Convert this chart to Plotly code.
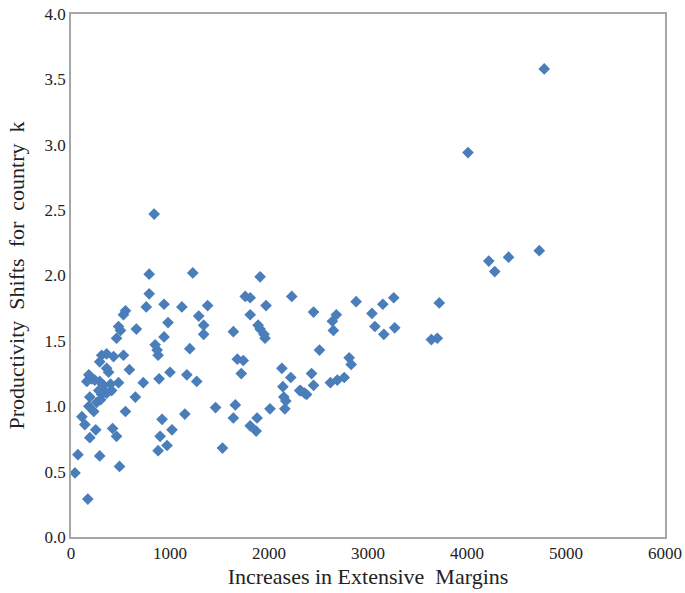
import plotly.graph_objects as go

# Increases in extensive margins (x) vs productivity shifts for country k (y)
margins = [
    4780, 4010, 4730, 4420, 4220, 4280, 3720, 3640, 3700,
    2450, 2680, 2640, 2650, 2880, 3150, 3260, 3040, 3070, 3160, 3270,
    2510, 2810, 2830, 2430, 2620, 2690, 2760, 2450, 2360, 2310,
    1910, 1760, 1810, 2230, 1380, 1970, 1810, 1890, 1910, 1950, 1960,
    1340, 1340, 1640, 1680, 1740, 1720, 2130, 2220, 2140, 2320, 2380,
    2150, 2170, 1460, 1660, 2010, 2160, 1640, 1880, 1810, 1870, 1530, 1270,
    840, 790, 1230, 790, 760, 940, 1120, 550, 530, 660, 980, 1290,
    480, 500, 460, 940, 850, 870, 880, 1200, 310, 360, 430, 530, 290,
    590, 360, 380, 180, 210, 160, 240, 290, 330, 400, 480, 280, 310,
    360, 410, 1000, 890, 730, 1170, 190, 180, 230, 260, 300, 110, 140,
    650, 550, 920, 1150, 250, 190, 420, 460, 900, 1020, 970, 880,
    70, 290, 490, 40, 170,
]
shifts = [
    3.58, 2.94, 2.19, 2.14, 2.11, 2.03, 1.79, 1.51, 1.52,
    1.72, 1.70, 1.65, 1.58, 1.80, 1.78, 1.83, 1.71, 1.61, 1.55, 1.60,
    1.43, 1.37, 1.32, 1.25, 1.18, 1.20, 1.22, 1.16, 1.10, 1.12,
    1.99, 1.84, 1.83, 1.84, 1.77, 1.77, 1.70, 1.62, 1.59, 1.55, 1.52,
    1.62, 1.55, 1.57, 1.36, 1.35, 1.25, 1.29, 1.22, 1.15, 1.12, 1.09,
    1.07, 1.04, 0.99, 1.01, 0.98, 0.98, 0.91, 0.91, 0.85, 0.81, 0.68, 1.19,
    2.47, 2.01, 2.02, 1.86, 1.76, 1.78, 1.76, 1.73, 1.70, 1.59, 1.64, 1.69,
    1.61, 1.58, 1.52, 1.53, 1.47, 1.43, 1.39, 1.44, 1.39, 1.40, 1.38, 1.39, 1.34,
    1.28, 1.29, 1.26, 1.24, 1.21, 1.19, 1.20, 1.19, 1.16, 1.17, 1.18, 1.12, 1.09,
    1.10, 1.12, 1.26, 1.21, 1.18, 1.24, 1.07, 1.00, 0.96, 1.03, 1.05, 0.92, 0.86,
    1.07, 0.96, 0.90, 0.94, 0.82, 0.76, 0.83, 0.77, 0.77, 0.82, 0.70, 0.66,
    0.63, 0.62, 0.54, 0.49, 0.29,
]

x_ticks = [0, 1000, 2000, 3000, 4000, 5000, 6000]
y_ticks = [0.0, 0.5, 1.0, 1.5, 2.0, 2.5, 3.0, 3.5, 4.0]

fig = go.Figure(
    go.Scatter(
        x=margins,
        y=shifts,
        mode="markers",
        marker=dict(symbol="diamond", size=9, color="#4a7ebb", line=dict(width=0)),
        showlegend=False,
    )
)

serif = "Liberation Serif, Times New Roman, serif"
axis_font = dict(family=serif, size=17, color="#222222")
title_font = dict(family=serif, size=22, color="#222222")

fig.update_layout(
    width=685,
    height=593,
    margin=dict(l=71, r=20, t=14, b=56, autoexpand=False),
    paper_bgcolor="white",
    plot_bgcolor="white",
    xaxis=dict(
        range=[0, 6000],
        tickvals=x_ticks,
        ticktext=[str(v) for v in x_ticks],
        showgrid=False,
        zeroline=False,
        showline=True,
        linecolor="#a6a6a6",
        linewidth=1.5,
        mirror=True,
        ticks="",
        automargin=False,
        tickfont=axis_font,
        title=dict(text="Increases in Extensive  Margins", font=title_font, standoff=6),
    ),
    yaxis=dict(
        range=[0, 4],
        tickvals=y_ticks,
        ticktext=[f"{v:.1f}" for v in y_ticks],
        showgrid=False,
        zeroline=False,
        showline=True,
        linecolor="#a6a6a6",
        linewidth=1.5,
        mirror=True,
        ticks="",
        automargin=False,
        tickfont=axis_font,
        title=dict(
            text="Productivity&nbsp;&nbsp;Shifts&nbsp;&nbsp;for&nbsp;&nbsp;country&nbsp;&nbsp;k",
            font=title_font,
            standoff=14,
        ),
    ),
)

fig.write_html("out.html")
